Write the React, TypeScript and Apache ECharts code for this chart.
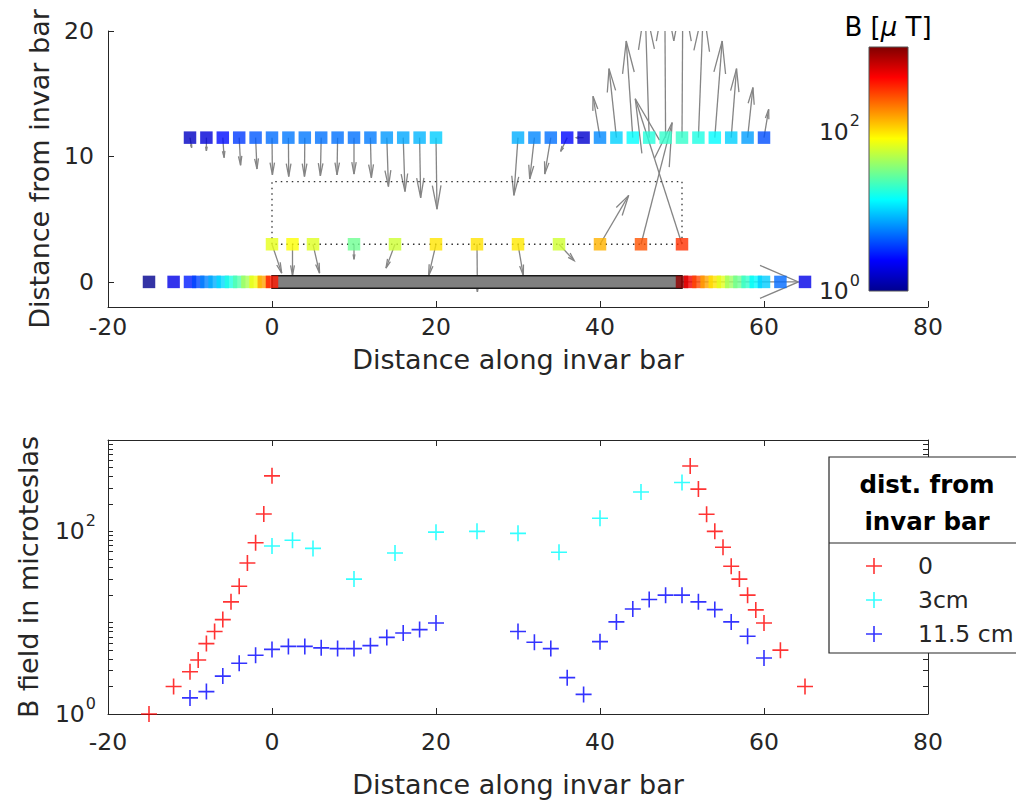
import React, { useEffect, useRef } from "react";
import * as echarts from "echarts";

// ---------- data ----------
// distance from invar bar of each measuring row (cm)
const ROW_DIST_0 = 0;
const ROW_DIST_3 = 3;
const ROW_DIST_115 = 11.5;

// row at 0 cm (red)
const x0 = [-15, -12, -10, -9, -8, -7, -6, -5, -4, -3, -2, -1, 0, 50, 51, 52, 53, 54, 55, 56, 57, 58, 59, 60, 62, 65];
const b0 = [1.0, 2.0, 2.9, 3.9, 5.9, 8.0, 10.8, 16.9, 25, 45, 75, 155, 405, 1020, 520, 290, 154, 100, 67, 41.5, 30, 20, 13.8, 9.9, 5.0, 2.0];
const u0 = [0, 0, 0, 0, 0, 0, 0, 0, 0, 0, 0, 0, 0, 14.2, 0, 0, 0, 0, 0, 0, 0, 0, 0, 0, 0, 0];
const v0 = [0, 0, 0, 0, 0, 0, 0, 0, 0, 0, 0, 0, 0, 0, 0, 0, 0, 0, 0, 0, 0, 0, 0, 0, 0, 0];

// row at 3 cm (cyan)
const x3 = [0, 2.5, 5, 10, 15, 20, 25, 30, 35, 40, 45, 50];
const b3 = [69, 80, 65, 30, 58, 98, 100, 95, 59, 139, 270, 343];
const u3 = [1.18, 0, 0.8, 0, -1.1, -0.9, 0.05, 0.65, 1.85, 3.5, 3.8, -5.7];
const v3 = [-2.3, -2.5, -2.3, -1.2, -1.9, -2.5, -3.8, -2.5, -1.3, 3.9, 9.7, 11.6];

// row at 11.5 cm (blue)
const x115 = [-10, -8, -6, -4, -2, 0, 2, 4, 6, 8, 10, 12, 14, 16, 18, 20, 30, 32, 34, 36, 38, 40, 42, 44, 46, 48, 50, 52, 54, 56, 58, 60];
const b115 = [1.5, 1.76, 2.6, 3.6, 4.4, 5.1, 5.5, 5.5, 5.3, 5.2, 5.2, 5.6, 6.9, 7.7, 8.4, 9.9, 8.0, 6.1, 5.2, 2.5, 1.64, 6.2, 10.2, 14.1, 17.9, 20, 20, 16.9, 13.9, 10.2, 7.1, 4.1];
const u115 = [0.2, 0, 0.16, 0.17, 0.17, 0.05, 0.04, -0.04, -0.1, -0.07, 0, 0.12, 0.2, 0.22, 0.13, 0.12, -0.5, -0.57, -0.74, -0.8, -0.9, -0.85, -0.9, -0.8, -0.5, -0.1, 0.1, 0.6, 0.9, 0.65, 0.65, 0.57];
const v115 = [-0.8, -1.06, -1.6, -2.2, -2.5, -2.97, -3.1, -3.1, -3.05, -2.97, -2.9, -3.2, -3.9, -4.3, -4.8, -5.7, -4.6, -3.3, -2.9, -1.1, 0, 3.3, 5.5, 7.7, 10.5, 11.5, 11.5, 10.3, 7.7, 5.5, 4.0, 2.26];

// invar bar and dotted outline
const barStart = 0;
const barEnd = 50;
const barHalf = 0.5;
const outlineX = [0, 0, 50, 50, 0];
const outlineY = [3, 8, 8, 3, 3];

// colour limits (µT)
const cMin = 1;
const cMax = 1150;

const seriesNames = ["0", "3cm", "11.5 cm"];
const xTicksTop = [-20, 0, 20, 40, 60, 80];
const yTicksTop = [0, 10, 20];
const logLabelTicks = [1, 100];

// ---------- style ----------
const FONT = "'DejaVu Sans', 'Liberation Sans', Arial, sans-serif";
const TXT = "#262626";
const TICK_FS = 23.5;
const NAME_FS = 27;
const jet = ["#00008F", "#0000FF", "#0080FF", "#00FFFF", "#80FF80", "#FFFF00", "#FF8000", "#FF0000", "#800000"];
const PLUS = "path://M0,9H9V0H11V9H20V11H11V20H9V11H0Z";

const supRich = {
  b: { fontSize: TICK_FS, fontFamily: FONT, color: TXT, lineHeight: 24 },
  s: { fontSize: 16, fontFamily: FONT, color: TXT, lineHeight: 16, padding: [0, 0, 22, 1] },
};
const supFmt = (v: number) => {
  const e = Math.round(Math.log10(v));
  return `{b|10}{s|${e}}`;
};

const logMinorTicks: number[] = [];
[1, 10, 100].forEach((d) => {
  for (let k = 1; k < 10; k++) logMinorTicks.push(d * k);
});
logMinorTicks.push(1000);

function arrowItem(params: any, api: any) {
  const x = api.value(0), y = api.value(1), u = api.value(2), v = api.value(3);
  if (!u && !v) return null;
  const a = 0.33, b = 0.28;
  const p0 = api.coord([x, y]);
  const p1 = api.coord([x + u, y + v]);
  const h1 = api.coord([x + u - a * (u + b * v), y + v - a * (v - b * u)]);
  const h2 = api.coord([x + u - a * (u - b * v), y + v - a * (v + b * u)]);
  const cs = params.coordSys;
  return {
    type: "group",
    clipPath: { type: "rect", shape: { x: cs.x, y: cs.y, width: cs.width, height: cs.height } },
    children: [
      { type: "line", shape: { x1: p0[0], y1: p0[1], x2: p1[0], y2: p1[1] }, style: { stroke: "#858585", lineWidth: 1.3 } },
      { type: "polyline", shape: { points: [h1, p1, h2] }, style: { stroke: "#858585", lineWidth: 1.3, fill: null } },
    ],
  };
}

const axisLineStyle = { show: true, onZero: false, lineStyle: { color: TXT, width: 1 } };
const tickLabel = { color: TXT, fontFamily: FONT, fontSize: TICK_FS };
const nameStyle = { color: TXT, fontFamily: FONT, fontSize: NAME_FS };

function buildOption(): any {
  const squares = [
    ...x0.map((x, i) => [x, ROW_DIST_0, Math.log10(b0[i])]),
    ...x3.map((x, i) => [x, ROW_DIST_3, Math.log10(b3[i])]),
    ...x115.map((x, i) => [x, ROW_DIST_115, Math.log10(b115[i])]),
  ];
  const arrowsLow = x0.map((x, i) => [x, ROW_DIST_0, u0[i], v0[i]]);
  const arrowsHigh = [
    ...x3.map((x, i) => [x, ROW_DIST_3, u3[i], v3[i]]),
    ...x115.map((x, i) => [x, ROW_DIST_115, u115[i], v115[i]]),
  ];
  const outline = outlineX.map((x, i) => [x, outlineY[i]]);

  return {
    animation: false,
    textStyle: { fontFamily: FONT },
    grid: [
      { left: 108, top: 31, width: 820, height: 276 },
      { left: 108, top: 440, width: 820, height: 274 },
      { left: 869, top: 47, width: 39, height: 244 },
    ],
    xAxis: [
      {
        gridIndex: 0, type: "value", min: -20, max: 80, interval: 20,
        axisLine: axisLineStyle, axisTick: { inside: true, length: 6, lineStyle: { color: TXT } },
        axisLabel: { ...tickLabel, margin: 8, customValues: xTicksTop }, splitLine: { show: false },
        name: "Distance along invar bar", nameLocation: "middle", nameGap: 39, nameTextStyle: nameStyle,
      },
      {
        gridIndex: 1, type: "value", min: -20, max: 80, interval: 20, position: "bottom",
        axisLine: axisLineStyle, axisTick: { inside: true, length: 6, lineStyle: { color: TXT } },
        axisLabel: { ...tickLabel, margin: 16 }, splitLine: { show: false },
        name: "Distance along invar bar", nameLocation: "middle", nameGap: 57, nameTextStyle: nameStyle,
      },
      {
        gridIndex: 1, type: "value", min: -20, max: 80, interval: 20, position: "top",
        axisLine: axisLineStyle, axisTick: { inside: true, length: 6, lineStyle: { color: TXT } },
        axisLabel: { show: false }, splitLine: { show: false },
      },
      { gridIndex: 2, type: "value", min: 0, max: 1, show: false },
    ],
    yAxis: [
      {
        gridIndex: 0, type: "value", min: -2, max: 20, interval: 2,
        axisLine: axisLineStyle,
        axisTick: { inside: true, length: 6, customValues: yTicksTop, lineStyle: { color: TXT } },
        axisLabel: { ...tickLabel, margin: 14, customValues: yTicksTop }, splitLine: { show: false },
        name: "Distance from invar bar", nameLocation: "middle", nameGap: 52, nameRotate: 90, nameTextStyle: nameStyle,
      },
      {
        gridIndex: 1, type: "log", min: 1, max: 1000, logBase: 10,
        axisLine: axisLineStyle,
        axisTick: { inside: true, length: 5, customValues: logMinorTicks, lineStyle: { color: TXT } },
        axisLabel: { margin: 12, customValues: logLabelTicks, formatter: supFmt, rich: supRich }, splitLine: { show: false },
        name: "B field in microteslas", nameLocation: "middle", nameGap: 66, nameRotate: 90, nameTextStyle: nameStyle,
      },
      {
        gridIndex: 1, type: "log", min: 1, max: 1000, logBase: 10, position: "right",
        axisLine: axisLineStyle,
        axisTick: { inside: true, length: 5, customValues: logMinorTicks, lineStyle: { color: TXT } },
        axisLabel: { show: false }, splitLine: { show: false },
      },
      {
        gridIndex: 2, type: "log", min: cMin, max: cMax, logBase: 10,
        axisLine: { show: false, onZero: false }, axisTick: { show: false },
        axisLabel: { margin: 9, customValues: logLabelTicks, formatter: supFmt, rich: supRich }, splitLine: { show: false },
      },
    ],
    visualMap: {
      show: false, type: "continuous", seriesIndex: 4, dimension: 2,
      min: Math.log10(cMin), max: Math.log10(cMax), inRange: { color: jet },
    },
    legend: {
      data: seriesNames, orient: "vertical", left: 866, top: 554, padding: 0,
      itemWidth: 16, itemHeight: 16, itemGap: 10, icon: PLUS,
      textStyle: { color: TXT, fontFamily: FONT, fontSize: 23.5, lineHeight: 24, padding: [0, 0, 0, 31] },
      z: 6,
    },
    graphic: [
      { type: "rect", z: 5, shape: { x: 829, y: 457, width: 220, height: 196 }, style: { fill: "#fff", stroke: TXT, lineWidth: 1.2 } },
      { type: "line", z: 5, shape: { x1: 829, y1: 543, x2: 1030, y2: 543 }, style: { stroke: TXT, lineWidth: 1.2 } },
      { type: "text", z: 6, x: 927, y: 484, style: { text: "dist. from", fill: "#000", font: `bold 24.5px ${FONT}`, align: "center", verticalAlign: "middle" } },
      { type: "text", z: 6, x: 927, y: 521, style: { text: "invar bar", fill: "#000", font: `bold 24.5px ${FONT}`, align: "center", verticalAlign: "middle" } },
      {
        type: "text", z: 6, x: 888, y: 27,
        style: {
          text: "{n|B [}{m|μ}{n| T]}", align: "center", verticalAlign: "middle",
          rich: {
            n: { fontSize: 26, fontFamily: FONT, fill: "#000", color: "#000" },
            m: { fontSize: 26, fontFamily: FONT, fontStyle: "italic", fill: "#000", color: "#000" },
          },
        },
      },
    ],
    series: [
      {
        type: "custom", name: "field row 0", xAxisIndex: 0, yAxisIndex: 0, z: 1,
        renderItem: arrowItem, data: arrowsLow, encode: { x: 0, y: 1 }, silent: true,
      },
      {
        type: "custom", name: "field rows", xAxisIndex: 0, yAxisIndex: 0, z: 1,
        renderItem: arrowItem, data: arrowsHigh, encode: { x: 0, y: 1 }, silent: true,
      },
      {
        type: "line", name: "outline", xAxisIndex: 0, yAxisIndex: 0, z: 2, symbol: "none",
        data: outline, lineStyle: { color: "#333", width: 1.3, type: [1.5, 4] }, silent: true,
      },
      {
        type: "custom", name: "invar bar", xAxisIndex: 0, yAxisIndex: 0, z: 3, silent: true,
        data: [[barStart, -barHalf, barEnd, barHalf]], encode: { x: [0, 2], y: [1, 3] },
        renderItem: (params: any, api: any) => {
          const p0 = api.coord([api.value(0), api.value(1)]);
          const p1 = api.coord([api.value(2), api.value(3)]);
          return {
            type: "rect",
            shape: { x: p0[0], y: p1[1], width: p1[0] - p0[0], height: p0[1] - p1[1] },
            style: { fill: "#808080", stroke: "#1a1a1a", lineWidth: 1.5 },
          };
        },
      },
      {
        type: "scatter", name: "probes", xAxisIndex: 0, yAxisIndex: 0, z: 4,
        symbol: "rect", symbolSize: 12.5, data: squares, silent: true,
      },
      {
        type: "scatter", name: seriesNames[0], xAxisIndex: 1, yAxisIndex: 1, symbol: PLUS, symbolSize: 16,
        itemStyle: { color: "#FF0000" }, data: x0.map((x, i) => [x, b0[i]]),
      },
      {
        type: "scatter", name: seriesNames[1], xAxisIndex: 1, yAxisIndex: 1, symbol: PLUS, symbolSize: 16,
        itemStyle: { color: "#00FFFF" }, data: x3.map((x, i) => [x, b3[i]]),
      },
      {
        type: "scatter", name: seriesNames[2], xAxisIndex: 1, yAxisIndex: 1, symbol: PLUS, symbolSize: 16,
        itemStyle: { color: "#0000FF" }, data: x115.map((x, i) => [x, b115[i]]),
      },
      {
        type: "custom", name: "colorbar", xAxisIndex: 3, yAxisIndex: 3, silent: true,
        data: [[0, cMin, 1, cMax]], encode: { x: [0, 2], y: [1, 3] },
        renderItem: (params: any, api: any) => {
          const p0 = api.coord([api.value(0), api.value(1)]);
          const p1 = api.coord([api.value(2), api.value(3)]);
          return {
            type: "rect",
            shape: { x: p0[0], y: p1[1], width: p1[0] - p0[0], height: p0[1] - p1[1] },
            style: {
              fill: new echarts.graphic.LinearGradient(0, 1, 0, 0, jet.map((c, k) => ({ offset: k / (jet.length - 1), color: c }))),
              stroke: "#555",
              lineWidth: 1,
            },
          };
        },
      },
    ],
  };
}

export default function App() {
  const ref = useRef<HTMLDivElement>(null);
  useEffect(() => {
    document.body.style.margin = "0";
    const chart = echarts.init(ref.current as HTMLDivElement, null, { renderer: "svg" });
    chart.setOption(buildOption());
    return () => chart.dispose();
  }, []);
  return <div ref={ref} style={{ width: 1016, height: 805 }} />;
}
